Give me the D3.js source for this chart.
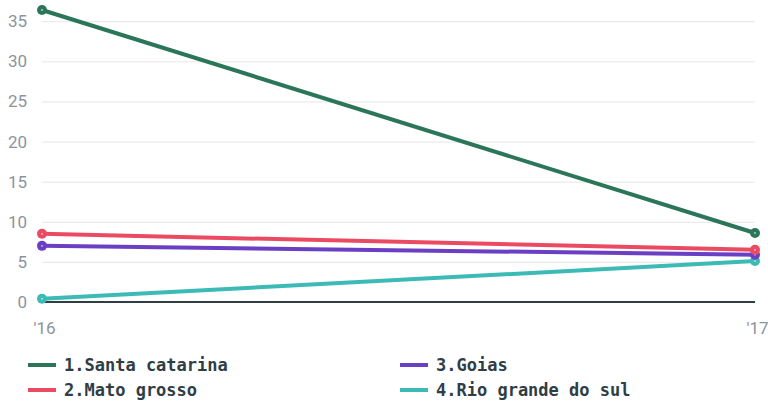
<!DOCTYPE html>
<html>
<head>
<meta charset="utf-8">
<script src="https://cdn.jsdelivr.net/npm/d3@7"></script>
<style>
  body { margin: 0; background: #fff; }
  .tick text { font-family: "Roboto", "Liberation Sans", sans-serif; }
</style>
</head>
<body>
<div id="chart"></div>
<script>
// data
const years = ["'16", "'17"];
const seriesNames = ["1.Santa catarina", "2.Mato grosso", "3.Goias", "4.Rio grande do sul"];
const santaCatarina = [36.4, 8.6];
const matoGrosso = [8.5, 6.5];
const goias = [7.0, 5.9];
const rioGrande = [0.4, 5.1];
const yTicks = [0, 5, 10, 15, 20, 25, 30, 35];
const colors = ["#2b7659", "#eb4b62", "#6b3fc4", "#3cbab6"];

function drawChart() {
  const width = 768;
  const height = 401;
  const margin = { top: 10, right: 13, bottom: 99, left: 42 };

  const series = [santaCatarina, matoGrosso, goias, rioGrande].map((vals, i) => ({
    name: seriesNames[i],
    color: colors[i],
    values: vals.map((v, j) => ({ year: years[j], value: v }))
  }));

  const x = d3.scalePoint()
    .domain(years)
    .range([margin.left, width - margin.right]);

  const y = d3.scaleLinear()
    .domain([0, 36.4])
    .range([302, margin.top]);

  const svg = d3.select("#chart")
    .append("svg")
    .attr("width", width)
    .attr("height", height)
    .attr("viewBox", [0, 0, width, height]);

  // gridlines + y labels
  const yAxis = svg.append("g")
    .attr("transform", `translate(${margin.left},0)`)
    .call(d3.axisLeft(y).tickValues(yTicks).tickSize(-(width - margin.left - margin.right)).tickPadding(15));
  yAxis.select(".domain").remove();
  yAxis.selectAll(".tick line").attr("stroke", "#e6e6e6").attr("stroke-width", 1);
  yAxis.selectAll(".tick text").attr("fill", "#8b949b").style("font-size", "17px");

  // baseline
  svg.append("line")
    .attr("x1", margin.left)
    .attr("x2", width - margin.right)
    .attr("y1", y(0))
    .attr("y2", y(0))
    .attr("stroke", "#2f3d45")
    .attr("stroke-width", 2);

  // x labels
  const xAxis = svg.append("g")
    .attr("transform", `translate(0,${y(0)})`)
    .call(d3.axisBottom(x).tickSize(0).tickPadding(20));
  xAxis.select(".domain").remove();
  xAxis.selectAll(".tick text").attr("fill", "#8b949b").style("font-size", "17px")
    .attr("dx", 2);

  const line = d3.line()
    .x((d) => x(d.year))
    .y((d) => y(d.value));

  // draw last series first so series 1 sits on top
  const g = svg.append("g")
    .selectAll("g")
    .data(series.slice().reverse())
    .join("g");

  g.append("path")
    .attr("d", (d) => line(d.values))
    .attr("fill", "none")
    .attr("stroke", (d) => d.color)
    .attr("stroke-width", 4);

  g.selectAll("circle.dot")
    .data((d) => d.values.map((v) => ({ ...v, color: d.color })))
    .join("circle")
    .attr("class", "dot")
    .attr("cx", (d) => x(d.year))
    .attr("cy", (d) => y(d.value))
    .attr("r", 5)
    .attr("fill", (d) => d.color);

  g.selectAll("circle.hole")
    .data((d) => d.values)
    .join("circle")
    .attr("class", "hole")
    .attr("cx", (d) => x(d.year))
    .attr("cy", (d) => y(d.value))
    .attr("r", 0.9)
    .attr("fill", "#fff")
    .attr("opacity", 0.7);

  // legend
  const legend = svg.append("g")
    .selectAll("g")
    .data(series)
    .join("g")
    .attr("transform", (d, i) => `translate(${i < 2 ? 28 : 400},${i % 2 === 0 ? 365 : 390})`);

  legend.append("line")
    .attr("x1", 0)
    .attr("x2", 28)
    .attr("stroke", (d) => d.color)
    .attr("stroke-width", 4);

  legend.append("text")
    .attr("x", 36)
    .attr("dy", "0.35em")
    .attr("fill", "#2f3d45")
    .style("font-family", "'DejaVu Sans Mono', monospace")
    .style("font-weight", "bold")
    .style("font-size", "17px")
    .text((d) => d.name);
}

window.onload = function () {
  drawChart();
};
</script>
</body>
</html>
